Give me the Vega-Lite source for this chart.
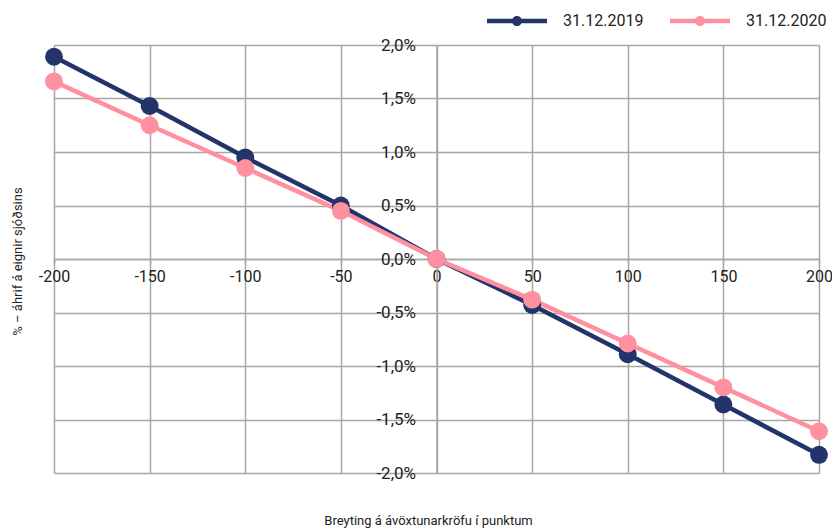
{
  "$schema": "https://vega.github.io/schema/vega-lite/v6.json",
  "autosize": {"type": "none"},
  "padding": {"left": 54, "top": 45, "right": 13, "bottom": 58},
  "width": 765,
  "height": 428,
  "data": {
    "values": [
      {"bp": -200, "v": 0.0189, "series": "31.12.2019"},
      {"bp": -150, "v": 0.0143, "series": "31.12.2019"},
      {"bp": -100, "v": 0.0095, "series": "31.12.2019"},
      {"bp": -50, "v": 0.0050, "series": "31.12.2019"},
      {"bp": 0, "v": 0.0, "series": "31.12.2019"},
      {"bp": 50, "v": -0.0043, "series": "31.12.2019"},
      {"bp": 100, "v": -0.0089, "series": "31.12.2019"},
      {"bp": 150, "v": -0.0136, "series": "31.12.2019"},
      {"bp": 200, "v": -0.0183, "series": "31.12.2019"},
      {"bp": -200, "v": 0.0166, "series": "31.12.2020"},
      {"bp": -150, "v": 0.0125, "series": "31.12.2020"},
      {"bp": -100, "v": 0.0085, "series": "31.12.2020"},
      {"bp": -50, "v": 0.0045, "series": "31.12.2020"},
      {"bp": 0, "v": 0.0, "series": "31.12.2020"},
      {"bp": 50, "v": -0.0038, "series": "31.12.2020"},
      {"bp": 100, "v": -0.0079, "series": "31.12.2020"},
      {"bp": 150, "v": -0.0120, "series": "31.12.2020"},
      {"bp": 200, "v": -0.0161, "series": "31.12.2020"}
    ]
  },
  "resolve": {"axis": {"x": "independent", "y": "independent"}},
  "layer": [
    {
      "mark": {"type": "line", "strokeWidth": 4.5},
      "encoding": {
        "x": {
          "field": "bp", "type": "quantitative",
          "scale": {"domain": [-200, 200], "nice": false},
          "axis": {
            "orient": "bottom",
            "values": [-200, -150, -100, -50, 0, 50, 100, 150, 200],
            "grid": true, "labels": false, "ticks": false, "domain": false,
            "title": "Breyting á ávöxtunarkröfu í punktum",
            "titleFontSize": 13, "titleFontWeight": "normal", "titleColor": "#222222",
            "titlePadding": 41, "titleX": 374
          }
        },
        "y": {
          "field": "v", "type": "quantitative",
          "scale": {"domain": [-0.02, 0.02], "nice": false},
          "axis": {
            "orient": "left",
            "values": [-0.02, -0.015, -0.01, -0.005, 0, 0.005, 0.01, 0.015, 0.02],
            "grid": true, "labels": false, "ticks": false, "domain": false,
            "title": "% – áhrif á eignir sjóðsins",
            "titleFontSize": 13, "titleFontWeight": "normal", "titleColor": "#222222",
            "titlePadding": 30, "titleY": 216
          }
        },
        "color": {
          "field": "series", "type": "nominal",
          "scale": {"domain": ["31.12.2019", "31.12.2020"], "range": ["#23346b", "#fe909f"]}
        },
        "order": {"field": "bp", "type": "quantitative"}
      }
    },
    {
      "mark": {"type": "point", "filled": true, "size": 320, "opacity": 1},
      "encoding": {
        "x": {
          "field": "bp", "type": "quantitative",
          "scale": {"domain": [-200, 200], "nice": false},
          "axis": {
            "orient": "bottom",
            "values": [-200, -150, -100, -50, 0, 50, 100, 150, 200],
            "grid": false, "offset": -214, "domain": true, "domainColor": "#a6a6a6", "domainWidth": 1.5,
            "ticks": true, "tickSize": 5, "tickColor": "#a6a6a6", "tickWidth": 1.5,
            "labelFontSize": 16, "labelColor": "#222222", "labelPadding": 4, "labelFlush": false,
            "labelExpr": "replace(format(datum.value, 'd'), '\u2212', '-')",
            "title": null
          }
        },
        "y": {
          "field": "v", "type": "quantitative",
          "scale": {"domain": [-0.02, 0.02], "nice": false},
          "axis": {
            "orient": "left",
            "values": [-0.02, -0.015, -0.01, -0.005, 0, 0.005, 0.01, 0.015, 0.02],
            "grid": false, "offset": -382.5, "domain": true, "domainColor": "#a6a6a6", "domainWidth": 1.5,
            "ticks": false, "labelPadding": 21,
            "labelFontSize": 17, "labelColor": "#222222", "labelFlush": false,
            "labelExpr": "replace(replace(format(datum.value, '.1%'), '.', ','), '\u2212', '-')",
            "title": null
          }
        },
        "color": {
          "field": "series", "type": "nominal",
          "scale": {"domain": ["31.12.2019", "31.12.2020"], "range": ["#23346b", "#fe909f"]},
          "legend": {
            "title": null,
            "orient": "none",
            "direction": "horizontal",
            "legendX": 433,
            "legendY": -54,
            "padding": 0,
            "symbolType": "M-1,-0.075L1,-0.075L1,0.075L-1,0.075Z M-0.17,0A0.17,0.17,0,1,1,0.17,0A0.17,0.17,0,1,1,-0.17,0Z",
            "symbolSize": 3600,
            "symbolStrokeWidth": 0,
            "symbolOpacity": 1,
            "labelFontSize": 16,
            "labelColor": "#222222",
            "labelOffset": 16,
            "columnPadding": 26
          }
        }
      }
    }
  ],
  "config": {
    "font": "Roboto, sans-serif",
    "view": {"stroke": null},
    "axis": {"gridColor": "#a6a6a6", "gridWidth": 1.5, "gridOpacity": 1}
  }
}
